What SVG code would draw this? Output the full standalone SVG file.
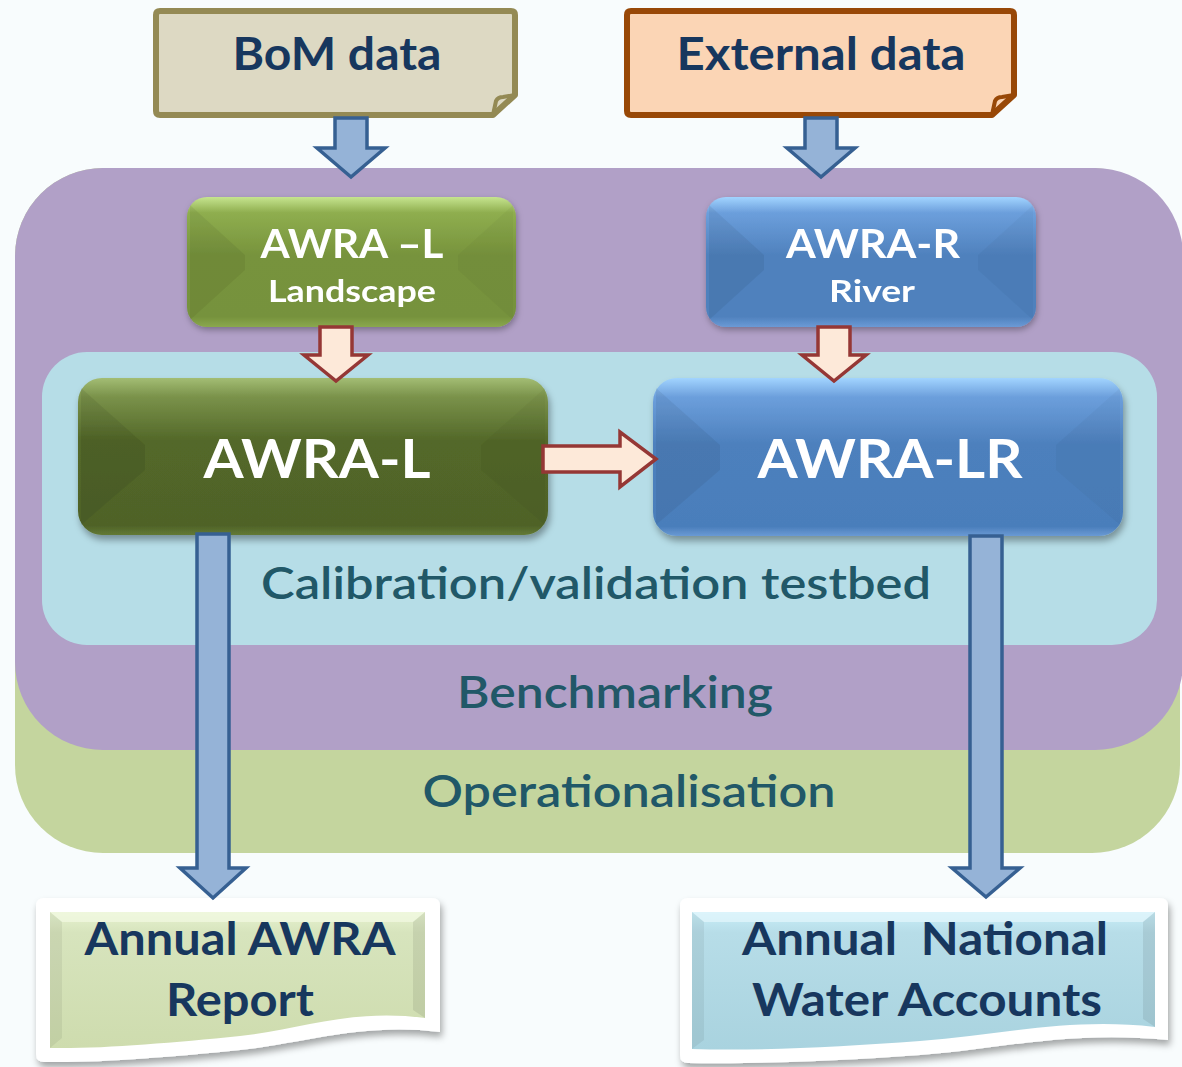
<svg xmlns="http://www.w3.org/2000/svg" width="1182" height="1067" viewBox="0 0 1182 1067">
<defs>
<style>
.lbl{font-family:Lato,"Open Sans","Liberation Sans",sans-serif;text-anchor:middle}
.dark{fill:#17375e;font-weight:bold}
.layer{fill:#215868;font-weight:600}
.white{fill:#ffffff;font-weight:bold}
.barrow{fill:#95b3d7;stroke:#366092;stroke-width:3.5;stroke-linejoin:miter}
.rarrow{fill:#fde9d9;stroke:#953735;stroke-width:3.5;stroke-linejoin:miter}
</style>
<linearGradient id="gSmall" x1="0" y1="0" x2="0" y2="1">
<stop offset="0" stop-color="#c6e58f"/><stop offset="0.12" stop-color="#8fae4f"/><stop offset="0.45" stop-color="#77933c"/><stop offset="0.92" stop-color="#76923c"/><stop offset="1" stop-color="#8aa84e"/>
</linearGradient>
<linearGradient id="gBig" x1="0" y1="0" x2="0" y2="1">
<stop offset="0" stop-color="#a3bd74"/><stop offset="0.12" stop-color="#7a924a"/><stop offset="0.4" stop-color="#536829"/><stop offset="0.94" stop-color="#4f6228"/><stop offset="1" stop-color="#637a35"/>
</linearGradient>
<linearGradient id="bSmall" x1="0" y1="0" x2="0" y2="1">
<stop offset="0" stop-color="#a2d4ff"/><stop offset="0.12" stop-color="#6c9fdc"/><stop offset="0.45" stop-color="#4f81bd"/><stop offset="0.92" stop-color="#4f81bd"/><stop offset="1" stop-color="#6b9ad6"/>
</linearGradient>
<linearGradient id="bBig" x1="0" y1="0" x2="0" y2="1">
<stop offset="0" stop-color="#a2d4ff"/><stop offset="0.12" stop-color="#6c9fdc"/><stop offset="0.42" stop-color="#4d80bd"/><stop offset="0.94" stop-color="#4a7ebb"/><stop offset="1" stop-color="#6a9ad4"/>
</linearGradient>
<linearGradient id="tGreen" x1="0" y1="0" x2="0" y2="1">
<stop offset="0" stop-color="#e6f2cf"/><stop offset="0.15" stop-color="#d7e4bd"/><stop offset="1" stop-color="#cedcae"/>
</linearGradient>
<linearGradient id="tBlue" x1="0" y1="0" x2="0" y2="1">
<stop offset="0" stop-color="#c9eef8"/><stop offset="0.15" stop-color="#b7dde8"/><stop offset="1" stop-color="#a9d3df"/>
</linearGradient>
<filter id="sh" x="-10%" y="-10%" width="125%" height="135%">
<feDropShadow dx="2" dy="5" stdDeviation="3.5" flood-color="#000" flood-opacity="0.35"/>
</filter>
<filter id="shs" x="-10%" y="-10%" width="125%" height="130%">
<feDropShadow dx="1" dy="3" stdDeviation="3" flood-color="#000" flood-opacity="0.3"/>
</filter>
</defs>
<rect width="1182" height="1067" fill="#f8fcfd"/>

<g id="layer-operationalisation">
<rect x="15" y="168" width="1165" height="685" rx="88" fill="#c4d59e"/>
<text class="lbl layer" x="629" y="807" font-size="44" textLength="413" lengthAdjust="spacingAndGlyphs">Operationalisation</text>
</g>
<g id="layer-benchmarking">
<rect x="15" y="168" width="1168" height="582" rx="88" fill="#b1a0c7"/>
<text class="lbl layer" x="615" y="708" font-size="44" textLength="316" lengthAdjust="spacingAndGlyphs">Benchmarking</text>
</g>
<g id="layer-calibration">
<rect x="42" y="352" width="1115" height="293" rx="45" fill="#b6dde7"/>
<text class="lbl layer" x="596" y="599" font-size="44" textLength="670" lengthAdjust="spacingAndGlyphs">Calibration/validation testbed</text>
</g>

<g id="bom-data">
<path d="M160,11 H511 Q515,11 515,15 V95 L493,115 H160 Q156,115 156,111 V15 Q156,11 160,11 Z" fill="#ddd9c3" stroke="#948a54" stroke-width="6" stroke-linejoin="round"/>
<path d="M493,115 L496,101 Q498,97 503,97 L515,95" fill="none" stroke="#948a54" stroke-width="4"/>
<text class="lbl dark" x="337" y="70" font-size="46" textLength="209" lengthAdjust="spacingAndGlyphs">BoM data</text>
</g>
<g id="external-data">
<path d="M631,11 H1010 Q1014,11 1014,15 V95 L992,115 H631 Q627,115 627,111 V15 Q627,11 631,11 Z" fill="#fbd5b5" stroke="#984807" stroke-width="6" stroke-linejoin="round"/>
<path d="M992,115 L995,101 Q997,97 1002,97 L1014,95" fill="none" stroke="#984807" stroke-width="4"/>
<text class="lbl dark" x="821" y="70" font-size="46" textLength="289" lengthAdjust="spacingAndGlyphs">External data</text>
</g>

<g id="awra-l-landscape" filter="url(#shs)">
<rect x="187" y="197" width="329" height="130" rx="20" fill="url(#gSmall)"/>
<path d="M190,205 L245,255 L245,270 L190,320 Z" fill="#000" opacity="0.06"/>
<path d="M513,205 L458,255 L458,270 L513,320 Z" fill="#000" opacity="0.03"/>
<text class="lbl white" x="352" y="258" font-size="40" textLength="183" lengthAdjust="spacingAndGlyphs">AWRA –L</text>
<text class="lbl white" x="352" y="302" font-size="30" textLength="168" lengthAdjust="spacingAndGlyphs">Landscape</text>
</g>
<g id="awra-r-river" filter="url(#shs)">
<rect x="706" y="197" width="330" height="130" rx="20" fill="url(#bSmall)"/>
<path d="M709,205 L764,255 L764,270 L709,320 Z" fill="#000" opacity="0.06"/>
<path d="M1033,205 L978,255 L978,270 L1033,320 Z" fill="#000" opacity="0.03"/>
<text class="lbl white" x="873" y="258" font-size="40" textLength="174" lengthAdjust="spacingAndGlyphs">AWRA-R</text>
<text class="lbl white" x="872" y="302" font-size="30" textLength="86" lengthAdjust="spacingAndGlyphs">River</text>
</g>
<g id="awra-l" filter="url(#sh)">
<rect x="78" y="378" width="470" height="157" rx="24" fill="url(#gBig)"/>
<path d="M81,388 L145,445 L145,470 L81,525 Z" fill="#000" opacity="0.07"/>
<path d="M545,388 L481,445 L481,470 L545,525 Z" fill="#000" opacity="0.03"/>
<text class="lbl white" x="317" y="478" font-size="53" textLength="227" lengthAdjust="spacingAndGlyphs">AWRA-L</text>
</g>
<g id="awra-lr" filter="url(#sh)">
<rect x="653" y="378" width="470" height="158" rx="24" fill="url(#bBig)"/>
<path d="M656,388 L720,445 L720,470 L656,525 Z" fill="#000" opacity="0.06"/>
<path d="M1120,388 L1056,445 L1056,470 L1120,525 Z" fill="#000" opacity="0.03"/>
<text class="lbl white" x="890" y="478" font-size="53" textLength="265" lengthAdjust="spacingAndGlyphs">AWRA-LR</text>
</g>

<g id="annual-awra-report">
<path d="M44,898 H432 Q440,898 440,906 V1032 C362,1022 300,1044 240,1050 C170,1057 100,1063 44,1062 Q36,1062 36,1054 V906 Q36,898 44,898 Z" fill="#ffffff" filter="url(#sh)"/>
<path d="M50,912 H425 V1018 C350,1008 300,1030 240,1036 C170,1043 100,1049 50,1048 Z" fill="url(#tGreen)"/>
<path d="M50,912 H425 L413,922 H62 Z" fill="#f2f9e2" opacity="0.7"/>
<path d="M50,912 L62,922 V1038 L50,1048 Z" fill="#000" opacity="0.06"/>
<path d="M425,912 L413,922 V1010 L425,1018 Z" fill="#000" opacity="0.08"/>
<text class="lbl dark" x="240" y="955" font-size="46" textLength="311" lengthAdjust="spacingAndGlyphs">Annual AWRA</text>
<text class="lbl dark" x="240" y="1016" font-size="46" textLength="148" lengthAdjust="spacingAndGlyphs">Report</text>
</g>
<g id="annual-national-water-accounts">
<path d="M688,898 H1160 Q1168,898 1168,906 V1040 C1070,1030 1000,1049 920,1055 C840,1061 760,1064 688,1063 Q680,1063 680,1055 V906 Q680,898 688,898 Z" fill="#ffffff" filter="url(#sh)"/>
<path d="M692,912 H1155 V1027 C1070,1017 1000,1035 920,1041 C840,1047 760,1051 692,1049 Z" fill="url(#tBlue)"/>
<path d="M692,912 H1155 L1143,922 H704 Z" fill="#e4f7fc" opacity="0.7"/>
<path d="M692,912 L704,922 V1040 L692,1049 Z" fill="#000" opacity="0.06"/>
<path d="M1155,912 L1143,922 V1019 L1155,1027 Z" fill="#000" opacity="0.08"/>
<text class="lbl dark" x="925" y="955" font-size="46" textLength="366" lengthAdjust="spacingAndGlyphs" xml:space="preserve">Annual  National</text>
<text class="lbl dark" x="927" y="1016" font-size="46" textLength="350" lengthAdjust="spacingAndGlyphs">Water Accounts</text>
</g>

<g id="connectors">
<path class="barrow" d="M335,118 H367 V148 H385 L351,177 L317,148 H335 Z"/>
<path class="barrow" d="M805,118 H837 V148 H855 L821,177 L787,148 H805 Z"/>
<path class="rarrow" d="M320,327 H352 V355 H368 L336,381 L304,355 H320 Z"/>
<path class="rarrow" d="M818,327 H850 V355 H866 L834,381 L802,355 H818 Z"/>
<path class="rarrow" d="M543,446 H620 V432 L656,459 L620,487 V472 H543 Z"/>
<path class="barrow" d="M197,534 H229 V868 H246 L213,898 L180,868 H197 Z"/>
<path class="barrow" d="M970,536 H1002 V868 H1020 L986,897 L952,868 H970 Z"/>
</g>
</svg>
